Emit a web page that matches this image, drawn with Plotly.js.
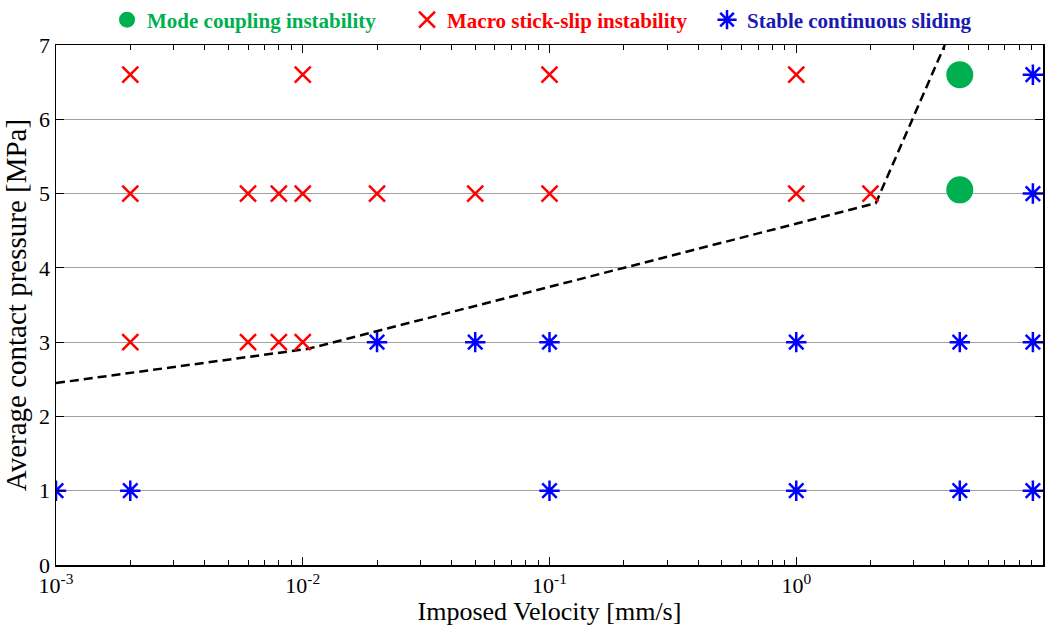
<!DOCTYPE html>
<html>
<head>
<meta charset="utf-8">
<script src="https://cdn.plot.ly/plotly-3.0.1.min.js"></script>
<style>html,body{margin:0;padding:0;background:#fff;}#chart{width:1051px;height:626px;}</style>
</head>
<body>
<div id="chart"></div>
<script>
// Mode coupling instability
const modeX = [4.6, 4.6];
const modeY = [6.6, 5.05];
// Macro stick-slip instability
const stickX = [0.002, 0.01, 0.1, 1,
                0.002, 0.006, 0.008, 0.01, 0.02, 0.05, 0.1, 1, 2,
                0.002, 0.006, 0.008, 0.01];
const stickY = [6.6, 6.6, 6.6, 6.6,
                5, 5, 5, 5, 5, 5, 5, 5, 5,
                3, 3, 3, 3];
// Stable continuous sliding
const stableX = [9.1, 9.1,
                 0.02, 0.05, 0.1, 1, 4.6, 9.1,
                 0.001, 0.002, 0.1, 1, 4.6, 9.1];
const stableY = [6.6, 5,
                 3, 3, 3, 3, 3, 3,
                 1, 1, 1, 1, 1, 1];
// Boundary (dashed)
const boundX = [0.001, 0.0105, 2.1, 4.0];
const boundY = [2.45, 2.91, 4.87, 7.0];

const names = ['Mode coupling instability', 'Macro stick-slip instability', 'Stable continuous sliding'];
const xTickVals = [0.001, 0.01, 0.1, 1, 10];
const xTickText = ['10<sup>-3</sup>', '10<sup>-2</sup>', '10<sup>-1</sup>', '10<sup>0</sup>', '10<sup>1</sup>'];
const yTickVals = [0, 1, 2, 3, 4, 5, 6, 7];

// minor tick positions 2..9 in each decade
const minorVals = [];
for (const d of [0.001, 0.01, 0.1, 1]) for (let k = 2; k <= 9; k++) minorVals.push(+(d * k).toPrecision(3));

const serif = '"Liberation Serif", "Times New Roman", Times, serif';

const traces = [
  {x: boundX, y: boundY, mode: 'lines', type: 'scatter', showlegend: false, hoverinfo: 'skip',
   line: {color: '#000', width: 2.5, dash: '9px,5px'}},
  {x: modeX, y: modeY, mode: 'markers', type: 'scatter',
   name: '<span style="color:#00b050"><b>' + names[0] + '</b></span>',
   marker: {symbol: 'circle', size: 27, color: '#00b050'}},
  {x: stickX, y: stickY, mode: 'markers', type: 'scatter',
   name: '<span style="color:#ff0000"><b>' + names[1] + '</b></span>',
   marker: {symbol: 'x-thin-open', size: 16, color: '#ff0000', line: {color: '#ff0000', width: 2.5}}},
  {x: stableX, y: stableY, mode: 'markers', type: 'scatter',
   name: '<span style="color:#1a1ab0"><b>' + names[2] + '</b></span>',
   marker: {symbol: 'asterisk-open', size: 17, color: '#0000ff', line: {color: '#0000ff', width: 2.5}}}
];

const layout = {
  width: 1051, height: 626,
  margin: {l: 56, r: 8, t: 45, b: 61},
  paper_bgcolor: '#fff', plot_bgcolor: '#fff',
  font: {family: serif, color: '#000', size: 22},
  showlegend: true,
  legend: {orientation: 'h', x: 0.53, xanchor: 'center', xref: 'container',
           y: 0.968, yanchor: 'middle', yref: 'container',
           font: {family: serif, size: 21}, itemwidth: 30, tracegroupgap: 0,
           entrywidth: 255, entrywidthmode: 'pixels',
           bgcolor: 'rgba(0,0,0,0)'},
  xaxis: {
    type: 'log', range: [-3, 1],
    tickmode: 'array', tickvals: xTickVals, ticktext: xTickText,
    ticks: 'inside', ticklen: 8, tickcolor: '#000', tickwidth: 1,
    minor: {tickmode: 'array', tickvals: minorVals, ticks: 'inside', ticklen: 5, tickcolor: '#000', showgrid: false},
    showline: true, linecolor: '#000', linewidth: 1.5, mirror: 'ticks',
    showgrid: false, zeroline: false,
    tickfont: {family: serif, size: 22},
    title: {text: 'Imposed Velocity [mm/s]', font: {family: serif, size: 26}, standoff: 0}
  },
  yaxis: {
    range: [0, 7], tickmode: 'array', tickvals: yTickVals,
    ticks: 'inside', ticklen: 8, tickcolor: '#000',
    showline: true, linecolor: '#000', linewidth: 1.5, mirror: 'ticks',
    showgrid: true, gridcolor: '#a0a0a0', gridwidth: 1, zeroline: false,
    tickfont: {family: serif, size: 22},
    title: {text: 'Average contact pressure [MPa]', font: {family: serif, size: 29}, standoff: 6}
  }
};

Plotly.newPlot('chart', traces, layout, {displayModeBar: false, staticPlot: true});
</script>
</body>
</html>
